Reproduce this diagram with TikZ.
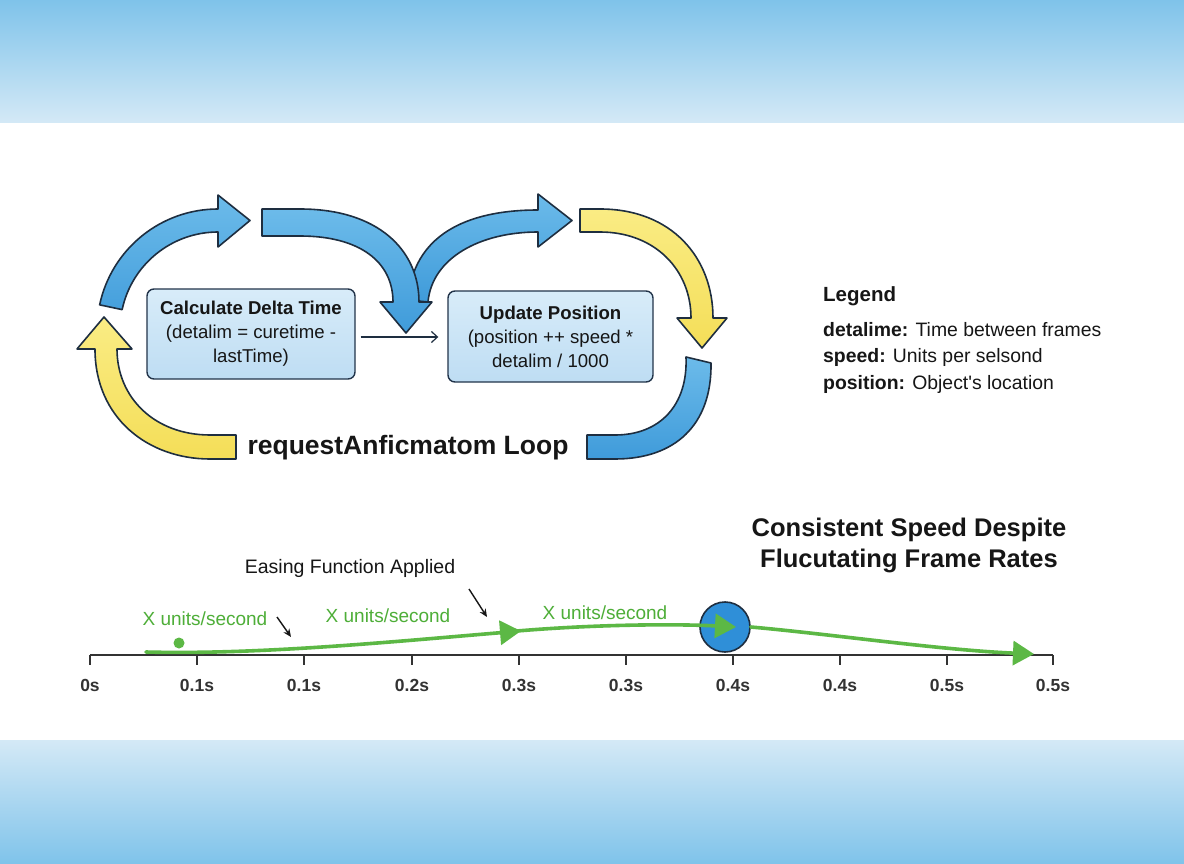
\documentclass[tikz,border=0pt]{standalone}
\usepackage{fontspec}
\setmainfont{Liberation Sans}
\usetikzlibrary{arrows.meta,calc}
\definecolor{outl}{HTML}{1E2E40}
\definecolor{blueT}{HTML}{6CBBEA}
\definecolor{blueB}{HTML}{3F9BDA}
\definecolor{yelT}{HTML}{FAEC84}
\definecolor{yelB}{HTML}{F4DE58}
\definecolor{boxT}{HTML}{D8ECF9}
\definecolor{boxBot}{HTML}{BEDDF3}
\definecolor{boxLine}{HTML}{22344A}
\definecolor{txt}{HTML}{161616}
\definecolor{grn}{HTML}{5CB845}
\definecolor{grnTxt}{HTML}{4EAE38}
\definecolor{ballFill}{HTML}{2F8FD8}
\definecolor{bandDark}{HTML}{7FC3EA}
\definecolor{bandLight}{HTML}{D4E9F6}
\definecolor{axisCol}{HTML}{333333}
\tikzset{
  bluearrow/.style={draw=outl, line width=1.6pt, line join=round, top color=blueT, bottom color=blueB},
  yellowarrow/.style={draw=outl, line width=1.6pt, line join=round, top color=yelT, bottom color=yelB},
  procbox/.style={draw=boxLine, line width=1.4pt, rounded corners=7pt, top color=boxT, bottom color=boxBot,
    align=center, font=\fontsize{18.6}{24}\selectfont, text=txt, inner sep=0pt},
  flowconn/.style={draw=outl, line width=1.2pt, -{Straight Barb[length=6pt,width=11pt,line width=1.2pt]}},
  looplabel/.style={font=\fontsize{26.5}{30}\selectfont\bfseries, text=txt},
  legtitle/.style={font=\fontsize{20.5}{24}\selectfont\bfseries, text=txt, anchor=west, inner sep=0pt},
  legitem/.style={font=\fontsize{19.4}{22}\selectfont, text=txt, anchor=west, inner sep=0pt},
  charttitle/.style={font=\fontsize{25.5}{31}\selectfont\bfseries, text=txt, align=center},
  easelabel/.style={font=\fontsize{19.5}{23}\selectfont, text=txt},
  speedlabel/.style={font=\fontsize{19}{23}\selectfont, text=grnTxt},
  axisline/.style={draw=axisCol, line width=1.5pt},
  tickmark/.style={draw=axisCol, line width=1.3pt},
  ticklabel/.style={font=\fontsize{17.5}{20}\selectfont\bfseries, text=axisCol},
  motion/.style={draw=grn, line width=3.6pt, line cap=round, -{Triangle[length=21pt,width=24pt]}},
  pointer/.style={draw=txt, line width=1.4pt, -{Stealth[length=8pt,width=7pt]}},
}
\begin{document}
\begin{tikzpicture}[x=1pt,y=-1pt]
\useasboundingbox (0,0) rectangle (1184,864);
\fill[white] (0,0) rectangle (1184,864);
% bands
\shade[top color=bandDark, bottom color=bandLight] (0,0) rectangle (1184,123);
\shade[top color=bandLight, bottom color=bandDark] (0,740) rectangle (1184,864);

% loop arrows
% arrow 1 (blue, top-left)
\path[bluearrow] (218,330) ++(192:121) arc[start angle=192, end angle=270, radius=121]
  -- (218,195) -- (250,220.5) -- (218,247) -- (218,232)
  arc[start angle=270, end angle=192, radius=98] -- cycle;
% arrow 3 (blue, up to the right), beneath arrow 2
\path[bluearrow] (408,300) .. controls (413,236) and (465,210) .. (538,210)
  -- (538,194) -- (572,220.5) -- (538,247) -- (538,232)
  .. controls (480,232) and (432,258) .. (428,302) -- cycle;
% arrow 2 (blue, down into gap)
\path[bluearrow] (262,209) -- (300,209) .. controls (378,209) and (419,250) .. (419,302)
  -- (432,302) -- (406,333) -- (380,302) -- (393,302)
  .. controls (393,262) and (360,236) .. (300,236) -- (262,236) -- cycle;
% arrow 4 (yellow, top-right)
\path[yellowarrow] (580,209) -- (600,209) .. controls (672,209) and (713,258) .. (713,318)
  -- (727,318) -- (702,348) -- (677,318) -- (691,318)
  .. controls (691,270) and (655,232) .. (600,232) -- (580,232) -- cycle;
% arrow 5 (blue, bottom-right)
\path[bluearrow] (686,357) -- (711,363) .. controls (712,425) and (675,459) .. (615,459)
  -- (587,459) -- (587,435) -- (615,435) .. controls (660,435) and (688,405) .. (686,357) -- cycle;
% arrow 6 (yellow, bottom-left)
\path[yellowarrow] (236,459) -- (210,459) .. controls (148,459) and (95,418) .. (95,349)
  -- (77,349) -- (104,317) -- (132,349) -- (117,349)
  .. controls (117,398) and (155,435) .. (210,435) -- (236,435) -- cycle;

% process boxes
\node[procbox, minimum width=208pt, minimum height=90pt] (calc) at (251,334)
  {\textbf{Calculate Delta Time}\\(detalim = curetime -\\lastTime)};
\node[procbox, minimum width=205pt, minimum height=91pt] (upd) at (550.5,336.5)
  {\textbf{Update Position}\\(position ++ speed *\\detalim / 1000};
\draw[flowconn] ($(calc.east)+(5,3)$) -- ($(upd.west)+(-9,0.5)$);

\node[looplabel] (loop) at (408,448) {requestAnficmatom Loop};

% legend
\node[legtitle] (legT) at (823,296) {Legend};
\node[legitem] (leg1) at (823,330) {\textbf{detalime:} Time between frames};
\node[legitem] (leg2) at (823,357) {\textbf{speed:} Units per selsond};
\node[legitem] (leg3) at (823,384) {\textbf{position:} Object\textquotesingle s location};

% timeline
\node[charttitle] (ttl) at (909,545) {Consistent Speed Despite\\Flucutating Frame Rates};
\node[easelabel] (ease) at (350,568) {Easing Function Applied};

\coordinate (axL) at (90,655);
\coordinate (axR) at (1053,655);
\draw[axisline] (axL) -- (axR);
\foreach \x/\l [count=\i] in {90/0s,197/0.1s,304/0.1s,412/0.2s,519/0.3s,626/0.3s,733/0.4s,840/0.4s,947/0.5s,1053/0.5s}{
  \coordinate (tk\i) at (\x,655);
  \draw[tickmark] (tk\i) -- ++(0,10);
  \node[ticklabel] (tl\i) at (\x,685) {\l};
}

\node[circle, fill=ballFill, draw=outl, line width=1.6pt, minimum size=50pt, inner sep=0pt] (ball) at (725,627) {};
\node[circle, fill=grn, minimum size=11pt, inner sep=0pt] (dot) at (179,643) {};

\coordinate (m0) at (146,652);
\coordinate (m1) at (521,631);
\coordinate (m1s) at (517,631);
\coordinate (m2) at (736,627);
\coordinate (m3) at (1034,654);
\draw[motion] (m0) .. controls (260,655) and (400,641) .. (m1);
\draw[motion] (m1s) .. controls (600,624) and (680,624) .. (m2);
\draw[motion] (ball.east) .. controls (830,634) and (940,650) .. (m3);

\node[speedlabel] (s1) at (205,619) {X units/second};
\node[speedlabel] (s2) at (388,616) {X units/second};
\node[speedlabel] (s3) at (605,613) {X units/second};

\coordinate (p1a) at (277,617);
\coordinate (p1b) at (291,637);
\coordinate (p2a) at (469,589);
\coordinate (p2b) at (487,617);
\draw[pointer] (p1a) -- (p1b);
\draw[pointer] (p2a) -- (p2b);
\end{tikzpicture}
\end{document}
